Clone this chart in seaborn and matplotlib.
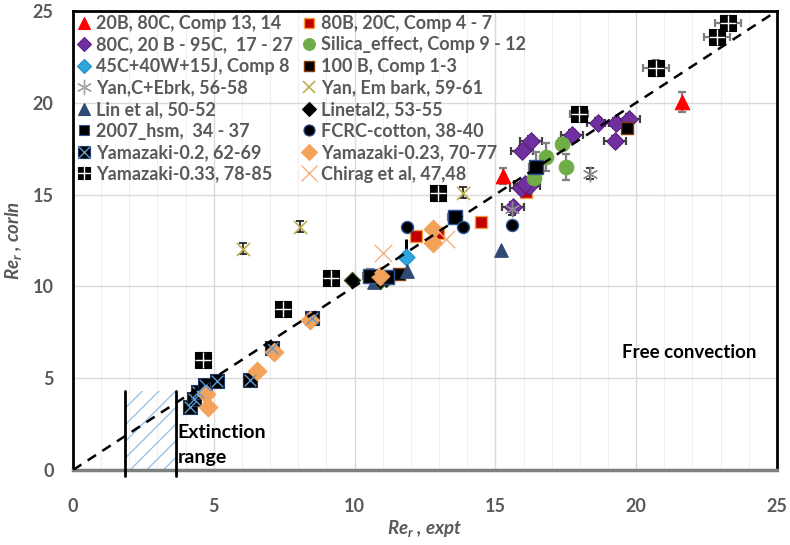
import numpy as np
import pandas as pd
import seaborn as sns
import matplotlib.pyplot as plt
from matplotlib.lines import Line2D
from matplotlib.patches import Rectangle
from matplotlib.legend_handler import HandlerTuple

# ---------------- data ----------------
x_20b80c = [15.27, 21.63]
y_20b80c = [16.01, 20.04]
ye_20b80c = [0.45, 0.55]

x_80b20c = [12.18, 12.96, 14.50, 16.10]
y_80b20c = [12.75, 12.90, 13.50, 15.14]

x_80c20b = [15.63, 15.90, 16.20, 15.95, 16.26, 17.72, 18.64, 19.28, 19.74, 19.25, 16.05]
y_80c20b = [14.32, 15.36, 15.47, 17.37, 17.92, 18.25, 18.90, 18.90, 19.12, 17.92, 15.55]

x_silica = [16.37, 16.80, 17.37, 17.50]
y_silica = [15.90, 17.05, 17.76, 16.50]
ye_silica = [0.30, 0.75, 0.30, 0.70]

x_45c = [11.83]
y_45c = [11.60]

x_100b = [11.58, 19.67, 10.90]
y_100b = [10.68, 18.63, 10.45]

x_yanc = [15.60, 18.36]
y_yanc = [14.20, 16.12]

x_yanem = [6.04, 8.06, 13.85]
y_yanem = [12.04, 13.24, 15.09]

x_lin = [11.86, 15.20, 10.70]
y_lin = [10.85, 11.98, 10.25]

x_lin2 = [9.90, 10.90, 11.10]
y_lin2 = [10.35, 10.30, 10.40]

x_hsm = [10.55, 11.15, 13.55, 16.45]
y_hsm = [10.57, 10.50, 13.78, 16.50]
ye_hsm = [0.35, 0.35, 0.35, 0.80]

x_fcrc = [11.86, 13.85, 15.60]
y_fcrc = [13.24, 13.24, 13.34]

x_y02 = [4.15, 4.30, 4.45, 4.69, 5.10, 6.29, 7.07, 8.49]
y_y02 = [3.43, 3.85, 4.25, 4.63, 4.85, 4.90, 6.64, 8.28]

x_y023 = [4.80, 4.72, 6.53, 7.14, 8.42, 10.90, 12.78, 12.80]
y_y023 = [3.43, 4.14, 5.39, 6.43, 8.17, 10.57, 13.13, 12.36]

x_y033 = [4.62, 7.46, 9.16, 12.96, 17.97, 20.70, 22.87, 23.26]
y_y033 = [5.99, 8.77, 10.46, 15.09, 19.39, 21.90, 23.58, 24.35]
xe_y033 = [0.0, 0.0, 0.0, 0.0, 0.33, 0.45, 0.47, 0.47]
ye_y033 = [0.0, 0.0, 0.0, 0.0, 0.30, 0.45, 0.35, 0.35]

x_chirag = [11.00, 13.25]
y_chirag = [11.82, 12.60]

parity = [0, 25]
extinction = [1.85, 3.66]

labels = ["20B, 80C, Comp 13, 14", "80C, 20 B - 95C,  17 - 27", "45C+40W+15J, Comp 8",
          "Yan,C+Ebrk, 56-58", "Lin et al, 50-52", "2007_hsm,  34 - 37",
          "Yamazaki-0.2, 62-69", "Yamazaki-0.33, 78-85",
          "80B, 20C, Comp 4 - 7", "Silica_effect, Comp 9 - 12", "100 B, Comp 1-3",
          "Yan, Em bark, 59-61", "Linetal2, 53-55", "FCRC-cotton, 38-40",
          "Yamazaki-0.23, 70-77", "Chirag et al, 47,48"]

# ---------------- style ----------------
sns.set_theme(style="white")
plt.rcParams['font.family'] = ['Lato', 'DejaVu Sans']
plt.rcParams['mathtext.default'] = 'regular'
plt.rcParams['hatch.linewidth'] = 1.0
GRAY = '#595959'
EB = '#7F7F7F'

fig, ax = plt.subplots(figsize=(7.9, 5.45), dpi=100)
fig.subplots_adjust(left=0.0924, right=0.9835, top=0.98, bottom=0.1376)

ax.set_xlim(0, 25)
ax.set_ylim(0, 25)
ax.set_xticks(range(0, 26, 5))
ax.set_yticks(range(0, 26, 5))
ax.set_xticks(range(0, 26, 1), minor=True)
ax.grid(True, which='major', color='#D9D9D9', lw=1.0, zorder=0)
ax.grid(True, which='minor', axis='x', color='#EFEFEF', lw=0.8, zorder=0)
ax.set_axisbelow(True)
ax.tick_params(axis='both', which='both', length=0)
ax.tick_params(axis='x', pad=20, labelsize=13, labelcolor=GRAY)
ax.tick_params(axis='y', pad=14, labelsize=13, labelcolor=GRAY)
for lab in ax.get_xticklabels() + ax.get_yticklabels():
    lab.set_fontweight('bold')

for side in ['top', 'right', 'left']:
    ax.spines[side].set_color('black')
    ax.spines[side].set_linewidth(2.0)
ax.spines['bottom'].set_color('#7F7F7F')
ax.spines['bottom'].set_linewidth(2.5)

# extinction range
ax.add_patch(Rectangle((extinction[0], 0), extinction[1] - extinction[0], 4.3,
                       facecolor='none', edgecolor='#9DC3E6', lw=0, hatch='//', zorder=1))
for xv in extinction:
    ax.plot([xv, xv], [-0.3, 4.3], color='black', lw=2, clip_on=False, zorder=3)

# parity line
sns.lineplot(x=parity, y=parity, ax=ax, color='black', lw=1.8, dashes=False, zorder=6)
ax.lines[-1].set_dashes((4, 3))

def eb(x, y, xerr=None, yerr=None, color=EB, lw=1.6):
    ax.errorbar(x, y, xerr=xerr, yerr=yerr, fmt='none', ecolor=color, elinewidth=lw,
                capsize=3, capthick=lw, zorder=4)

def sc(x, y, marker, s, color, ec, lw=0.8, z=5):
    df = pd.DataFrame({'x': x, 'y': y})
    sns.scatterplot(data=df, x='x', y='y', ax=ax, marker=marker, s=s, color=color,
                    edgecolor=ec, linewidth=lw, zorder=z, legend=False)

# error bars
eb(x_20b80c, y_20b80c, yerr=ye_20b80c)
eb(x_80c20b, y_80c20b, xerr=0.38, yerr=0.25, color='#404040')
eb(x_silica, y_silica, yerr=ye_silica)
eb(x_hsm, y_hsm, xerr=0.25, yerr=ye_hsm)
eb(x_y033[4:], y_y033[4:], xerr=xe_y033[4:], yerr=ye_y033[4:])
eb(x_yanem, y_yanem, yerr=0.3, color='#262626', lw=1.3)
eb(x_yanc, y_yanc, yerr=0.3, color='#262626', lw=1.3)
ax.errorbar(x_45c, y_45c, yerr=[[0], [1.0]], fmt='none', ecolor='black', elinewidth=2.2,
            capsize=0, zorder=4)

# markers
sc(x_80b20c, y_80b20c, 's', 75, '#C00000', '#F4A040', 1.0)
sc(x_80c20b, y_80c20b, 'D', 80, '#7030A0', '#5A2080', 0.8)
sc(x_silica, y_silica, 'o', 110, '#70AD47', '#70AD47', 0.8)
sc(x_45c, y_45c, 'D', 75, '#2EA6E0', '#1F8CC0', 0.8)
sc(x_100b, y_100b, 's', 85, 'black', '#843C0C', 1.0)
sc(x_yanc, y_yanc, (6, 2, 0), 110, '#8C8C8C', '#8C8C8C', 1.0)
sc(x_yanem, y_yanem, 'x', 90, '#BFAE50', '#BFAE50', 1.2)
sc(x_lin, y_lin, '^', 95, '#2F4A75', '#2F4A75', 0.8)
sc(x_lin2, y_lin2, 'D', 70, 'black', '#385723', 0.8)
sc(x_hsm, y_hsm, 's', 90, 'black', '#2F5597', 1.0)
sc(x_fcrc, y_fcrc, 'o', 75, 'black', '#2F5597', 1.0)
sc(x_y02, y_y02, 's', 110, 'black', '#203864', 0.8)
sc(x_y02, y_y02, 'x', 70, '#5B9BD5', '#5B9BD5', 1.0, z=5.1)
sc(x_y023, y_y023, 'D', 90, '#F4A15A', '#F4A15A', 0.8)
sc(x_y033, y_y033, 's', 120, 'black', 'black', 0.8)
sc(x_y033, y_y033, '+', 120, 'white', 'white', 1.0, z=5.1)
sc(x_chirag, y_chirag, 'x', 160, '#F4B183', '#F4B183', 1.0)
sc(x_20b80c, y_20b80c, '^', 110, '#FF0000', '#FF0000', 0.8)

# texts
ax.text(3.72, 1.72, 'Extinction', fontsize=14, fontweight='bold', color='black', zorder=7)
ax.text(3.72, 0.4, 'range', fontsize=14, fontweight='bold', color='black', zorder=7)
ax.text(19.5, 6.1, 'Free convection', fontsize=13.5, fontweight='bold', color='black')

ax.set_xlabel('Re$_r$ , expt', fontsize=13.5, fontweight='bold', fontstyle='italic',
              color=GRAY, labelpad=2)
ax.set_ylabel('Re$_r$ , corln', fontsize=13.5, fontweight='bold', fontstyle='italic',
              color=GRAY, labelpad=6)

# legend
def mk(marker, color, ec, ms=8, mew=0.8):
    return Line2D([], [], ls='none', marker=marker, markersize=ms, markerfacecolor=color,
                  markeredgecolor=ec, markeredgewidth=mew)

handles = [
    mk('^', '#FF0000', '#FF0000', 9),
    mk('D', '#7030A0', '#5A2080', 7.5),
    mk('D', '#2EA6E0', '#1F8CC0', 7.5),
    mk((6, 2, 0), '#A6A6A6', '#A6A6A6', 11, 1.0),
    mk('^', '#2F4A75', '#2F4A75', 9),
    mk('s', 'black', '#2F5597', 7.5),
    (mk('s', 'black', '#203864', 9), mk('x', '#5B9BD5', '#5B9BD5', 8, 1.0)),
    (mk('s', 'black', 'black', 9), mk('+', 'white', 'white', 9.5, 1.0)),
    mk('s', '#C00000', '#F4A040', 7.5, 1.0),
    mk('o', '#70AD47', '#70AD47', 8.5),
    mk('s', 'black', '#843C0C', 7.5, 1.0),
    mk('x', '#BFAE50', '#BFAE50', 9, 1.2),
    mk('D', 'black', 'black', 7),
    mk('o', 'black', '#2F5597', 8),
    mk('D', '#F4A15A', '#F4A15A', 8),
    mk('x', '#F4B183', '#F4B183', 11, 1.0),
]
leg = ax.legend(handles, labels, ncol=2, loc='upper left', bbox_to_anchor=(-0.002, 1.003),
                frameon=False, fontsize=13, handlelength=0.8, handletextpad=0.25,
                columnspacing=0.5, labelspacing=0.25, borderaxespad=0.1, borderpad=0.2,
                handler_map={tuple: HandlerTuple(ndivide=1)})
leg.set_zorder(10)
for t in leg.get_texts():
    t.set_color(GRAY)
    t.set_fontweight('bold')

fig.savefig('out.png', dpi=100)
